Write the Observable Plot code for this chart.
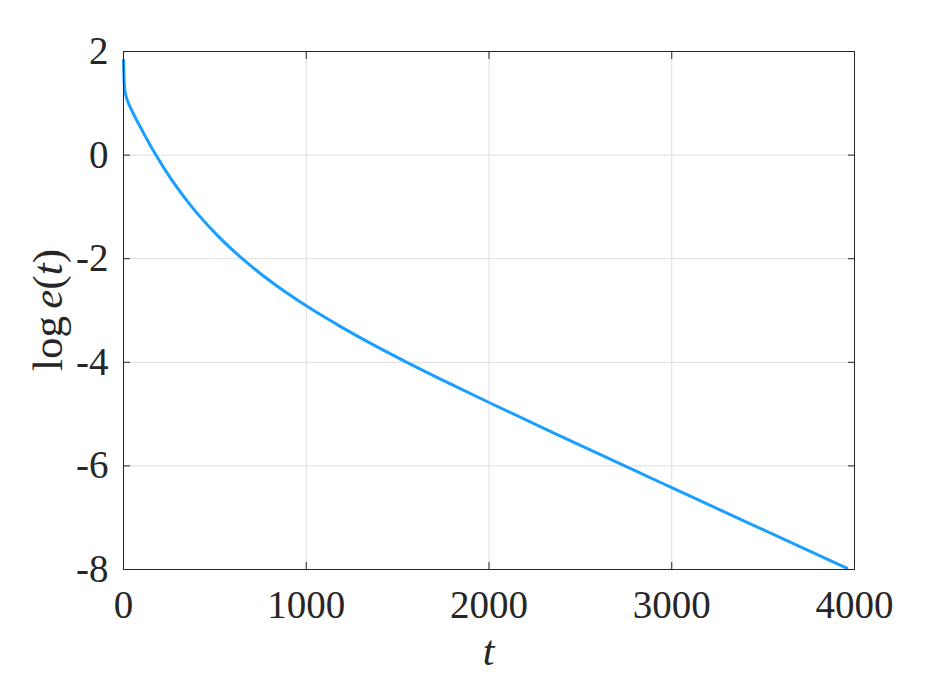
<!DOCTYPE html>
<html>
<head>
<meta charset="utf-8">
<script src="https://cdn.jsdelivr.net/npm/d3@7"></script>
<script src="https://cdn.jsdelivr.net/npm/@observablehq/plot@0.6"></script>
<style>
  html, body { margin: 0; padding: 0; background: white; }
  #chart svg { display: block; }
</style>
</head>
<body>
<div id="chart"></div>
<script>
// Time values t and the corresponding log e(t)
const tValues = [0, 5, 10, 18, 46, 91, 137, 176, 260, 365, 511, 650, 821, 1000, 1200, 1350, 1551, 1800, 2000, 2400, 2734, 3000, 3400, 3958];
const logE    = [1.83, 1.33, 1.20, 1.09, 0.86, 0.55, 0.25, 0.01, -0.46, -0.96, -1.54, -2.0, -2.48, -2.91, -3.335, -3.63, -4.0, -4.436, -4.776, -5.44, -5.987, -6.42, -7.07, -7.975];

const xTicks = [0, 1000, 2000, 3000, 4000];
const yTicks = [-8, -6, -4, -2, 0, 2];
const xDomain = [0, 4000];
const yDomain = [-8, 2];

const lineColor = "#1a9fff";
const axisColor = "#262626";
const gridColor = "#dedede";

const data = tValues.map((t, i) => ({t, v: logE[i]}));
const blank = () => "";

const plot = Plot.plot({
  width: 945,
  height: 680,
  marginLeft: 123,
  marginRight: 91,
  marginTop: 51,
  marginBottom: 111,
  style: {fontFamily: "'Liberation Serif', 'Times New Roman', serif", fontSize: "39px", color: axisColor, background: "white", overflow: "visible"},
  x: {domain: xDomain},
  y: {domain: yDomain},
  marks: [
    Plot.gridX(xTicks, {stroke: gridColor, strokeOpacity: 1}),
    Plot.gridY(yTicks, {stroke: gridColor, strokeOpacity: 1}),
    Plot.axisX(xTicks, {anchor: "bottom", tickSize: 0, tickPadding: 21, tickFormat: d => String(d), label: null, fontSize: 39}),
    Plot.axisX(xTicks, {anchor: "bottom", tickSize: -7, tickFormat: blank, label: null, stroke: axisColor}),
    Plot.axisX(xTicks, {anchor: "top", tickSize: -7, tickFormat: blank, label: null, stroke: axisColor}),
    Plot.axisY(yTicks, {anchor: "left", tickSize: 0, tickPadding: 15, tickFormat: d => String(d), label: null, fontSize: 39}),
    Plot.axisY(yTicks, {anchor: "left", tickSize: -7, tickFormat: blank, label: null, stroke: axisColor}),
    Plot.axisY(yTicks, {anchor: "right", tickSize: -7, tickFormat: blank, label: null, stroke: axisColor}),
    Plot.line(data, {x: "t", y: "v", stroke: lineColor, strokeWidth: 3, curve: "monotone-x"}),
    Plot.frame({stroke: axisColor, strokeWidth: 1})
  ]
});

const xs = plot.scale("x"), ys = plot.scale("y");
const svg = d3.select(plot);
const fontFam = "'Liberation Serif', 'Times New Roman', serif";

// x label: italic t
const xMid = (xs.apply(xDomain[0]) + xs.apply(xDomain[1])) / 2;
svg.append("text")
  .attr("x", xMid).attr("y", 665)
  .attr("text-anchor", "middle")
  .attr("fill", axisColor)
  .style("font-family", fontFam)
  .style("font-size", "42px")
  .style("font-style", "italic")
  .text("t");

// y label: log e(t)
const yMid = (ys.apply(yDomain[0]) + ys.apply(yDomain[1])) / 2;
const yl = svg.append("text")
  .attr("transform", `translate(62,${yMid}) rotate(-90)`)
  .attr("text-anchor", "middle")
  .attr("fill", axisColor)
  .style("font-family", fontFam)
  .style("font-size", "43px");
yl.append("tspan").text("log");
yl.append("tspan").attr("dx", "0.17em").style("font-style", "italic").text("e");
yl.append("tspan").text("(");
yl.append("tspan").style("font-style", "italic").text("t");
yl.append("tspan").text(")");

document.getElementById("chart").appendChild(plot);
</script>
</body>
</html>
